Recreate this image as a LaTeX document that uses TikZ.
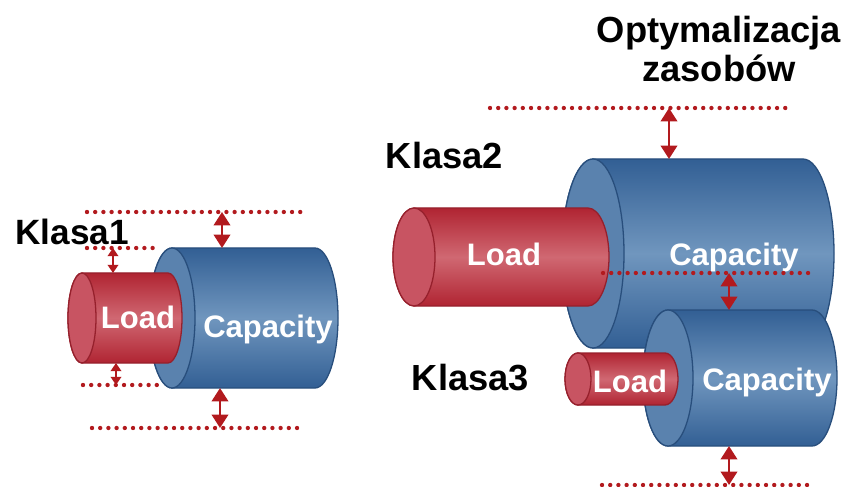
\documentclass[tikz,border=0pt]{standalone}
\usepackage{fontspec}
\setmainfont{Liberation Sans}
\usetikzlibrary{arrows.meta}
\definecolor{capdark}{RGB}{50,95,148}
\definecolor{caplight}{RGB}{112,150,190}
\definecolor{capside}{RGB}{90,130,174}
\definecolor{capline}{RGB}{40,78,124}
\definecolor{loaddark}{RGB}{176,36,50}
\definecolor{loadlight}{RGB}{208,104,114}
\definecolor{loadside}{RGB}{200,84,98}
\definecolor{loadline}{RGB}{150,32,44}
\definecolor{gapc}{RGB}{178,26,30}

\begin{document}
\begin{tikzpicture}[x=0.03cm, y=-0.03cm,
	capbody/.style={draw=capline, line width=1.1pt, top color=capdark, bottom color=capdark, middle color=caplight},
	capend/.style={draw=capline, line width=1.1pt, fill=capside},
	loadbody/.style={draw=loadline, line width=1.1pt, top color=loaddark, bottom color=loaddark, middle color=loadlight},
	loadend/.style={draw=loadline, line width=1.1pt, fill=loadside},
	level/.style={gapc, line width=3.7pt, line cap=round, dash pattern=on 0pt off 7pt},
	gapbig/.style={gapc, line width=2.4pt, {Triangle[length=11.5pt, width=14pt]}-{Triangle[length=11.5pt, width=14pt]}},
	gapsmall/.style={gapc, line width=1.8pt, {Triangle[length=7pt, width=9pt]}-{Triangle[length=7pt, width=9pt]}},
	klasa/.style={font=\fontsize{31}{34}\selectfont\bfseries, inner sep=0pt, anchor=base},
	inside/.style={font=\fontsize{26.5}{30}\selectfont\bfseries, text=white, inner sep=0pt, anchor=base}]
	\useasboundingbox (0,0) rectangle (848,487);
	% class 2: capacity, then load in front of it
	\draw[capbody] (593,159) -- (803,159) arc[start angle=-90, end angle=90, x radius=31, y radius=94.5] -- (593,348) arc[start angle=90, end angle=270, x radius=31, y radius=94.5] -- cycle;
	\draw[capend] (593,253.5) ellipse[x radius=31, y radius=94.5];
	\draw[loadbody] (414,208) -- (588,208) arc[start angle=-90, end angle=90, x radius=21, y radius=49] -- (414,306) arc[start angle=90, end angle=270, x radius=21, y radius=49] -- cycle;
	\draw[loadend] (414,257) ellipse[x radius=21, y radius=49];
	% class 3
	\draw[capbody] (668,310) -- (812,310) arc[start angle=-90, end angle=90, x radius=25, y radius=68] -- (668,446) arc[start angle=90, end angle=270, x radius=25, y radius=68] -- cycle;
	\draw[capend] (668,378) ellipse[x radius=25, y radius=68];
	\draw[loadbody] (578,353) -- (665,353) arc[start angle=-90, end angle=90, x radius=13, y radius=26] -- (578,405) arc[start angle=90, end angle=270, x radius=13, y radius=26] -- cycle;
	\draw[loadend] (578,379) ellipse[x radius=13, y radius=26];
	% class 1
	\draw[capbody] (172,248) -- (315,248) arc[start angle=-90, end angle=90, x radius=23, y radius=70] -- (172,388) arc[start angle=90, end angle=270, x radius=23, y radius=70] -- cycle;
	\draw[capend] (172,318) ellipse[x radius=23, y radius=70];
	\draw[loadbody] (82,273) -- (168,273) arc[start angle=-90, end angle=90, x radius=14, y radius=45] -- (82,363) arc[start angle=90, end angle=270, x radius=14, y radius=45] -- cycle;
	\draw[loadend] (82,318) ellipse[x radius=14, y radius=45];
	% labels on the cylinders
	\node[inside] (load1) at (138,328) {Load};
	\node[inside] (cap1) at (268,337) {Capacity};
	\node[inside] (load2) at (504,266) {Load};
	\node[inside] (cap2) at (734,266) {Capacity};
	\node[inside] (load3) at (630,392) {Load};
	\node[inside] (cap3) at (767,390) {Capacity};
	% class names
	\node[klasa, font=\fontsize{30}{34}\selectfont\bfseries] (k1) at (72,245) {Klasa1};
	\node[klasa] (k2) at (444.5,169) {Klasa2};
	\node[klasa] (k3) at (470.5,390) {Klasa3};
	\node[klasa, align=center] (opt) at (719,82) {Optymalizacja\\zasobów};
	% levels
	\coordinate (c1top) at (222,212);   \coordinate (c1up) at (222,248);
	\coordinate (l1top) at (113,248);   \coordinate (l1up) at (113,273);
	\coordinate (l1down) at (116,363);  \coordinate (l1bot) at (116,385);
	\coordinate (c1down) at (220,388);  \coordinate (c1bot) at (220,428);
	\coordinate (c2top) at (669,108);   \coordinate (c2up) at (669,159);
	\coordinate (c2bot) at (729,273);   \coordinate (c3up) at (729,310);
	\coordinate (c3down) at (729,446);  \coordinate (c3bot) at (729,485);
	\draw[level] (87,212) -- (305,212);
	\draw[level] (87,248) -- (160,248);
	\draw[level] (83,385) -- (158,385);
	\draw[level] (92,428) -- (302,428);
	\draw[level] (490,108) -- (788,108);
	\draw[level] (603,273) -- (813,273);
	\draw[level] (602,485) -- (813,485);
	% gaps between levels
	\draw[gapbig] (c1top) -- (c1up);
	\draw[gapsmall] (l1top) -- (l1up);
	\draw[gapsmall] (l1down) -- (l1bot);
	\draw[gapbig] (c1down) -- (c1bot);
	\draw[gapbig] (c2top) -- (c2up);
	\draw[gapbig] (c2bot) -- (c3up);
	\draw[gapbig] (c3down) -- (c3bot);
\end{tikzpicture}
\end{document}
